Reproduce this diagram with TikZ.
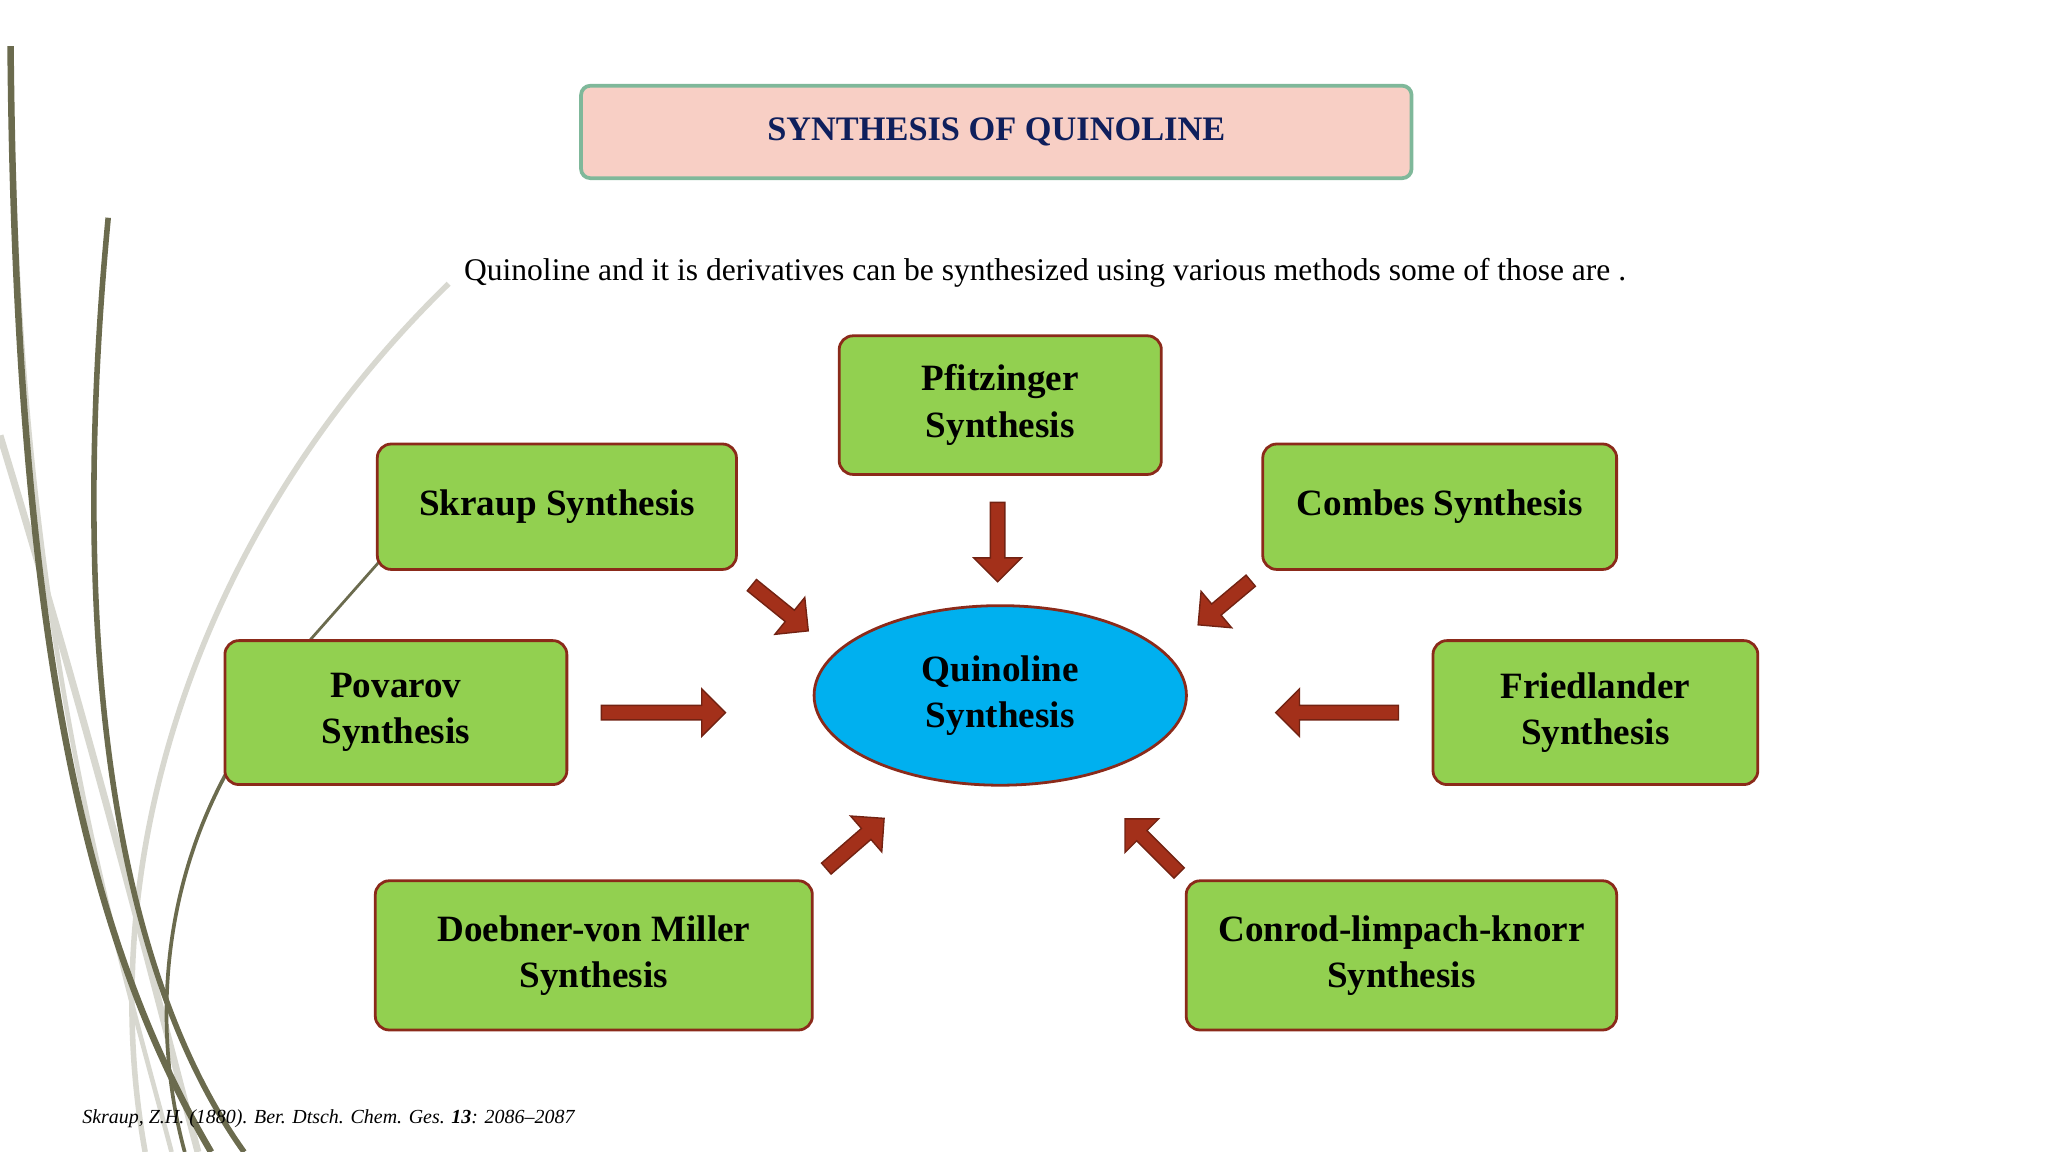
\documentclass[tikz,border=0pt]{standalone}
\usepackage{fontspec}
\setmainfont{Liberation Serif}
\usetikzlibrary{shapes.geometric,shapes.arrows}
\definecolor{boxg}{HTML}{92D050}
\definecolor{boxb}{HTML}{8B2A1A}
\definecolor{arr}{HTML}{A3301A}
\definecolor{pinkf}{HTML}{F8CFC5}
\definecolor{titleb}{HTML}{7FB89A}
\definecolor{navy}{HTML}{0F1F5C}
\definecolor{olive}{HTML}{6B6B4E}
\definecolor{lgray}{HTML}{D8D8D0}
\begin{document}
\begin{tikzpicture}[x=0.01cm,y=-0.01cm,
 box/.style={draw=boxb,fill=boxg,line width=0.6pt,rounded corners=3pt,font=\bfseries\fontsize{8}{10}\selectfont,align=center,inner sep=0pt},
 arrw/.style={single arrow,draw=arr!70!black,fill=arr,line width=0.3pt,minimum width=0.36cm,single arrow head extend=0.08cm,inner sep=0.03cm,anchor=center}]
\useasboundingbox (0,0) rectangle (1552,873);
% decorative strokes
\draw[lgray,line width=1.2pt] (340,215) .. controls (150,400) and (70,650) .. (110,873);
\draw[lgray,line width=1.5pt] (0,330) .. controls (70,560) and (110,720) .. (150,873);
\draw[lgray,line width=1pt] (10,120) .. controls (20,500) and (90,720) .. (130,873);
\draw[olive,line width=1.4pt] (8,35) .. controls (12,500) and (70,720) .. (160,873);
\draw[olive,line width=1.2pt] (82,165) .. controls (50,500) and (90,740) .. (185,873);
\draw[olive,line width=0.8pt] (172,585) .. controls (115,690) and (120,800) .. (140,873);
\draw[olive,line width=0.6pt] (288,425) -- (235,485);
% title
\node[draw=titleb,fill=pinkf,line width=0.8pt,rounded corners=2pt,minimum width=6.29cm,minimum height=0.70cm,font=\bfseries\fontsize{7.4}{9}\selectfont,text=navy] (title) at (755,100) {SYNTHESIS OF QUINOLINE};
\node[font=\fontsize{6.8}{8}\selectfont] (sub) at (792,207) {Quinoline and it is derivatives can be synthesized using various methods some of those are .};
% center
\node[ellipse,draw=boxb,fill={rgb,255:red,0;green,176;blue,239},line width=0.6pt,minimum width=2.82cm,minimum height=1.36cm,font=\bfseries\fontsize{8}{10}\selectfont,align=center] (q) at (758,527) {Quinoline\\Synthesis};
% boxes
\node[box,minimum width=2.44cm,minimum height=1.05cm] (pf) at (758,307) {Pfitzinger\\Synthesis};
\node[box,minimum width=2.72cm,minimum height=0.95cm] (sk) at (422,384) {Skraup Synthesis};
\node[box,minimum width=2.68cm,minimum height=0.95cm] (co) at (1091,384) {Combes Synthesis};
\node[box,minimum width=2.59cm,minimum height=1.09cm] (po) at (300,540) {Povarov\\Synthesis};
\node[box,minimum width=2.46cm,minimum height=1.09cm] (fr) at (1209,540) {Friedlander\\Synthesis};
\node[box,minimum width=3.31cm,minimum height=1.13cm] (do) at (450,724) {Doebner-von Miller\\Synthesis};
\node[box,minimum width=3.26cm,minimum height=1.13cm] (cl) at (1062,724) {Conrod-limpach-knorr\\Synthesis};
% arrows
\node[arrw,minimum height=0.60cm,rotate=-90] (a1) at (756,408) {};
\node[arrw,minimum height=0.55cm,rotate=-39] (a2) at (589,459) {};
\node[arrw,minimum height=0.52cm,rotate=-140] (a3) at (930,455) {};
\node[arrw,minimum height=0.94cm] (a4) at (500,540) {};
\node[arrw,minimum height=0.93cm,rotate=180] (a5) at (1016,540) {};
\node[arrw,minimum height=0.58cm,rotate=41] (a6) at (646,641) {};
\node[arrw,minimum height=0.58cm,rotate=135] (a7) at (875,643) {};
% footnote
\node[anchor=west,font=\itshape\fontsize{4.3}{5}\selectfont] (fn) at (50,848) {Skraup, Z.H. (1880). Ber. Dtsch. Chem. Ges. \textbf{13}: 2086–2087};
\end{tikzpicture}
\end{document}
